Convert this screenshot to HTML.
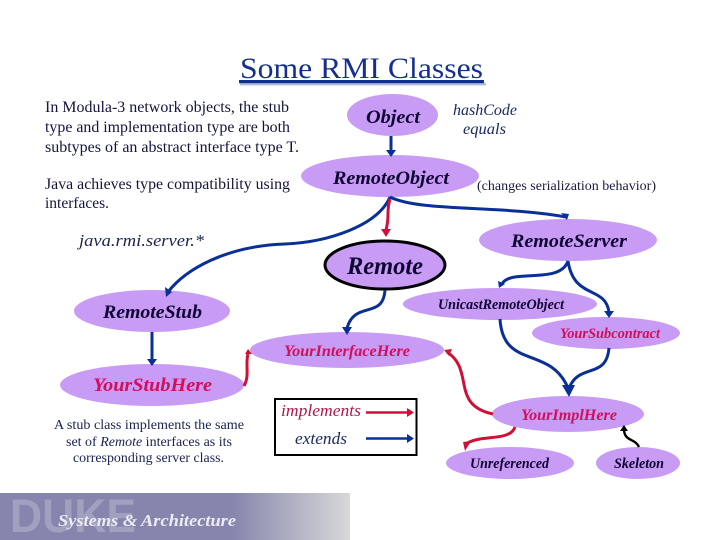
<!DOCTYPE html>
<html><head><meta charset="utf-8"><style>
html,body{margin:0;padding:0;background:#fff}
svg{display:block}
text{font-family:"Liberation Serif",serif}
.b{font-weight:bold;font-style:italic;fill:#0d0433}
.r{font-weight:bold;font-style:italic;fill:#d0105a}
.t{font-size:15.8px;fill:#14143c}
.s{font-size:13.6px;fill:#1a2350}
.bl{fill:none;stroke:#0a2f96;stroke-width:3}
.rd{fill:none;stroke:#d01038;stroke-width:3}
</style></head><body>
<svg width="720" height="540" viewBox="0 0 720 540" xmlns="http://www.w3.org/2000/svg">
<defs>
<linearGradient id="g" x1="0" x2="1" y1="0" y2="0"><stop offset="0" stop-color="#8585ad"/><stop offset="0.66" stop-color="#8585ad"/><stop offset="1" stop-color="#d8d8d8"/></linearGradient>
</defs>
<rect width="720" height="540" fill="#fff"/>

<!-- title -->
<rect x="240" y="83" width="246" height="2.500" fill="#b8bcd8"/>
<text x="240" y="78" font-size="30" fill="#14308c" textLength="243" lengthAdjust="spacingAndGlyphs">Some RMI Classes</text>
<rect x="239" y="80" width="245" height="3.200" fill="#0f2f90"/>

<!-- left text -->
<text class="t" x="45" y="112" textLength="244" lengthAdjust="spacingAndGlyphs">In Modula-3 network objects, the stub</text>
<text class="t" x="45" y="132" textLength="245" lengthAdjust="spacingAndGlyphs">type and implementation type are both</text>
<text class="t" x="45" y="152" textLength="254" lengthAdjust="spacingAndGlyphs">subtypes of an abstract interface type T.</text>
<text class="t" x="45" y="189" textLength="245" lengthAdjust="spacingAndGlyphs">Java achieves type compatibility using</text>
<text class="t" x="45" y="208" textLength="64" lengthAdjust="spacingAndGlyphs">interfaces.</text>
<text x="79" y="246" font-size="17" font-style="italic" fill="#1a2350" textLength="125" lengthAdjust="spacingAndGlyphs">java.rmi.server.*</text>

<!-- ellipses -->
<g fill="#c89bf5">
<ellipse cx="392.5" cy="115" rx="45.5" ry="21"/>
<ellipse cx="390" cy="176" rx="89" ry="21"/>
<ellipse cx="568" cy="240" rx="89" ry="21"/>
<ellipse cx="385" cy="265" rx="60" ry="24" stroke="#000" stroke-width="3"/>
<ellipse cx="500" cy="304" rx="97" ry="16"/>
<ellipse cx="606" cy="333" rx="74" ry="16"/>
<ellipse cx="347" cy="350" rx="97" ry="18"/>
<ellipse cx="152" cy="311" rx="78" ry="21"/>
<ellipse cx="152" cy="385" rx="92" ry="21"/>
<ellipse cx="568" cy="414" rx="76" ry="18"/>
<ellipse cx="510" cy="463" rx="64" ry="16"/>
<ellipse cx="638" cy="463" rx="42" ry="16"/>
</g>

<!-- blue connectors -->
<path class="bl" d="M391 136V151"/><path fill="#0a2f96" d="M386 150h10l-5 7z"/>
<path class="bl" d="M390 197C378 225 330 242 285 244C225 246 185 270 168 292"/><path fill="#0a2f96" d="M165 287l7 5-6 5z"/>
<path class="bl" d="M390 197C420 212 500 205 566 217"/><path fill="#0a2f96" d="M561 213l8 1-2 6z"/>
<path class="bl" d="M568 261C560 285 510 268 502 284"/><path fill="#0a2f96" d="M498 281l7 3-6 4z"/>
<path class="bl" d="M568 261C574 300 605 285 609 312"/><path fill="#0a2f96" d="M604 311h10l-5 7z"/>
<path class="bl" d="M385 290C383 320 355 300 347 328"/><path fill="#0a2f96" d="M342 327h10l-5 8z"/>
<path class="bl" d="M152 332V360"/><path fill="#0a2f96" d="M147 359h10l-5 7z"/>
<path class="bl" d="M500 319C503 370 550 345 568 388"/>
<path class="bl" d="M609 348C606 380 580 362 569 388"/><path fill="#0a2f96" d="M562 385h13l-6 12z"/>

<!-- red connectors -->
<path class="rd" d="M390 199C386 212 390 215 386 230"/><path fill="#d01038" d="M381 229h10l-5 8z"/>
<path class="rd" d="M244 386C250 375 245 365 248 354"/><path fill="#d01038" d="M245 354l3-5 4 5z"/>
<path class="rd" d="M493 414C450 405 475 370 447 352"/><path fill="#d01038" d="M444 350l8-1-3 7z"/>
<path class="rd" d="M515 427C510 442 480 434 466 444"/><path fill="#d01038" d="M463 442l8-1-6 10z"/>
<path fill="none" stroke="#000" stroke-width="2.4" d="M639 447C635 438 625 442 624 430"/><path d="M620 431l4-6 4 6z"/>

<!-- labels -->
<text class="b" x="366" y="123" font-size="19" textLength="54" lengthAdjust="spacingAndGlyphs">Object</text>
<text class="b" x="333" y="184" font-size="19" textLength="116" lengthAdjust="spacingAndGlyphs">RemoteObject</text>
<text class="b" x="511" y="247" font-size="19" textLength="116" lengthAdjust="spacingAndGlyphs">RemoteServer</text>
<text class="b" x="347" y="274" font-size="25" textLength="76" lengthAdjust="spacingAndGlyphs">Remote</text>
<text class="b" x="438" y="309" font-size="14.500" textLength="126" lengthAdjust="spacingAndGlyphs">UnicastRemoteObject</text>
<text class="r" x="560" y="338" font-size="14.500" textLength="100" lengthAdjust="spacingAndGlyphs">YourSubcontract</text>
<text class="r" x="284" y="356" font-size="15.500" textLength="126" lengthAdjust="spacingAndGlyphs">YourInterfaceHere</text>
<text class="b" x="103" y="318" font-size="19" textLength="99" lengthAdjust="spacingAndGlyphs">RemoteStub</text>
<text class="r" x="93" y="391" font-size="19" textLength="119" lengthAdjust="spacingAndGlyphs">YourStubHere</text>
<text class="r" x="521" y="420" font-size="15.500" textLength="96" lengthAdjust="spacingAndGlyphs">YourImplHere</text>
<text class="b" x="470" y="468" font-size="14.500" textLength="79" lengthAdjust="spacingAndGlyphs">Unreferenced</text>
<text class="b" x="614" y="468" font-size="14.500" textLength="50" lengthAdjust="spacingAndGlyphs">Skeleton</text>

<text x="453" y="115" font-size="15.500" font-style="italic" fill="#1a2a60" textLength="64" lengthAdjust="spacingAndGlyphs">hashCode</text>
<text x="463" y="134" font-size="15.500" font-style="italic" fill="#1a2a60" textLength="43" lengthAdjust="spacingAndGlyphs">equals</text>
<text x="477" y="190" font-size="13.500" fill="#1a1a40" textLength="179" lengthAdjust="spacingAndGlyphs">(changes serialization behavior)</text>

<!-- stub note -->
<text class="s" x="54" y="429" textLength="190" lengthAdjust="spacingAndGlyphs">A stub class implements the same</text>
<text class="s" x="66" y="446" textLength="166" lengthAdjust="spacingAndGlyphs">set of <tspan font-style="italic">Remote</tspan> interfaces as its</text>
<text class="s" x="73" y="462" textLength="151" lengthAdjust="spacingAndGlyphs">corresponding server class.</text>

<!-- legend -->
<rect x="275" y="399" width="141.500" height="56" fill="#fff" stroke="#000" stroke-width="2"/>
<text x="281" y="416" font-size="16.500" font-style="italic" fill="#b01848" textLength="80" lengthAdjust="spacingAndGlyphs">implements</text>
<text x="295" y="444" font-size="16.500" font-style="italic" fill="#1a2a60" textLength="52" lengthAdjust="spacingAndGlyphs">extends</text>
<path d="M366 412.500H408" stroke="#d01038" stroke-width="2.600"/><path fill="#d01038" d="M407 408l7 4.500-7 4.500z"/>
<path d="M366 438.500H408" stroke="#0a2f96" stroke-width="2.600"/><path fill="#0a2f96" d="M407 434l7 4.500-7 4.500z"/>

<!-- footer -->
<rect x="0" y="493" width="350" height="47" fill="url(#g)"/>
<text x="10" y="532" font-size="47" font-weight="bold" fill="#a0a0bf" textLength="126" lengthAdjust="spacingAndGlyphs" style="font-family:'Liberation Sans',sans-serif">DUKE</text>
<text x="58" y="526" font-size="17" font-weight="bold" font-style="italic" fill="#ececf2" textLength="178" lengthAdjust="spacingAndGlyphs">Systems &amp; Architecture</text>
</svg>
</body></html>
